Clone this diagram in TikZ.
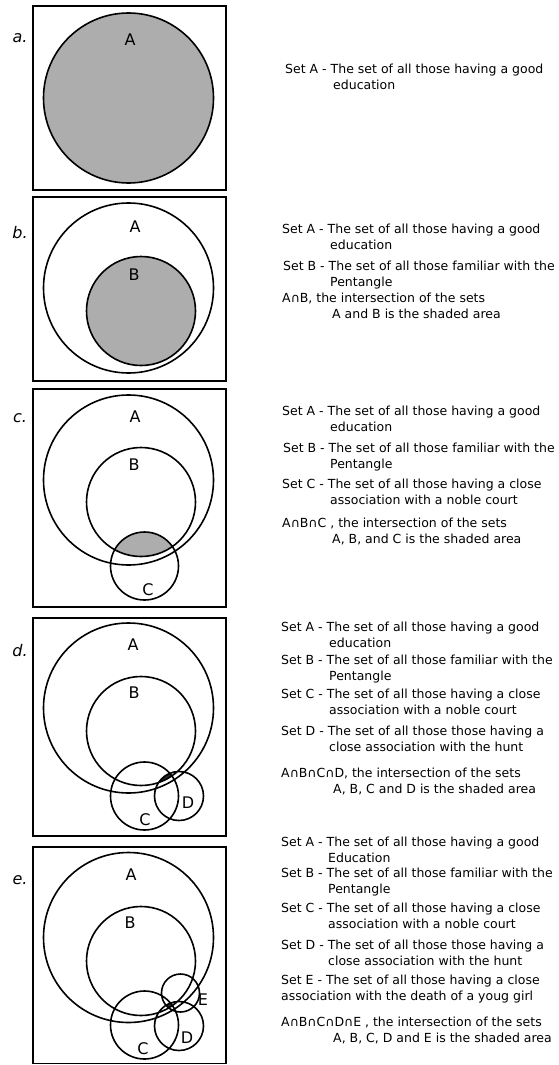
\documentclass[tikz,border=0pt]{standalone}
\usepackage{fontspec}
\setmainfont{DejaVu Sans}

\begin{document}
\begin{tikzpicture}
		[x=1pt,y=-1pt,
		set circle/.style={draw,line width=1.6pt},
		panel/.style={draw,line width=1.4pt},
		shaded/.style={fill=black!32},
		shaded sliver/.style={fill=black!85},
		set label/.style={font=\fontsize{16}{16}\selectfont},
		part label/.style={font=\fontsize{16}{16}\selectfont\itshape},
		desc/.style={anchor=base west,align=left,inner sep=0pt,font=\fontsize{12.5}{16.5}\selectfont}]
		\def \rA {85}
		\def \rB {54.5}
		\def \rC {34}
		\def \rD {24.5}
		\def \rE {19}
		\useasboundingbox (0,0) rectangle (558,1065);
		
		% a.
		\draw[panel] (33,6) rectangle (226,190);
		\coordinate (a-A) at (128.5,98);
		\fill[shaded] (a-A) circle (\rA);
		\draw[set circle] (a-A) circle (\rA);
		\node[part label] (a) at (20,38) {a.};
		\node[set label] (a-lA) at (130,40) {A};
		\node[desc] (a-dA) at (285,89.5) {Set A - The set of all those having a good\\\hspace*{48pt}education};
		
		% b.
		\draw[panel] (33,197) rectangle (226,381);
		\coordinate (b-A) at (128.5,288);
		\coordinate (b-B) at (141,311);
		\fill[shaded] (b-B) circle (\rB);
		\draw[set circle] (b-A) circle (\rA) (b-B) circle (\rB);
		\node[part label] (b) at (20,233) {b.};
		\node[set label] (b-lA) at (135,227) {A};
		\node[set label] (b-lB) at (134,275) {B};
		\node[desc] (b-dA) at (282,249.5) {Set A - The set of all those having a good\\\hspace*{48pt}education};
		\node[desc] (b-dB) at (283,286.5) {Set B - The set of all those familiar with the\\\hspace*{47pt}Pentangle};
		\node[desc] (b-dAB) at (282,318.5) {A∩B, the intersection of the sets\\\hspace*{50pt}A and B is the shaded area};
		
		% c.
		\draw[panel] (33,389) rectangle (226,607);
		\coordinate (c-A) at (128.5,480);
		\coordinate (c-B) at (141,502);
		\coordinate (c-C) at (144.5,566);
		\begin{scope}
			\clip (c-A) circle (\rA);
			\clip (c-B) circle (\rB);
			\fill[shaded] (c-C) circle (\rC);
		\end{scope}
		\draw[set circle] (c-A) circle (\rA) (c-B) circle (\rB) (c-C) circle (\rC);
		\node[part label] (c) at (20,418) {c.};
		\node[set label] (c-lA) at (135,417) {A};
		\node[set label] (c-lB) at (134,465) {B};
		\node[set label] (c-lC) at (148,590) {C};
		\node[desc] (c-dA) at (282,431.5) {Set A - The set of all those having a good\\\hspace*{48pt}education};
		\node[desc] (c-dB) at (283,468.5) {Set B - The set of all those familiar with the\\\hspace*{47pt}Pentangle};
		\node[desc] (c-dC) at (282,504.5) {Set C - The set of all those having a close\\\hspace*{48pt}association with a noble court};
		\node[desc] (c-dABC) at (282,543.5) {A∩B∩C , the intersection of the sets\\\hspace*{50pt}A, B, and C is the shaded area};
		
		% d.
		\draw[panel] (33,618) rectangle (226,836);
		\coordinate (d-A) at (128.5,708);
		\coordinate (d-B) at (141,731);
		\coordinate (d-C) at (144.5,796);
		\coordinate (d-D) at (179,796);
		\begin{scope}
			\clip (d-A) circle (\rA);
			\clip (d-B) circle (\rB);
			\clip (d-C) circle (\rC);
			\fill[shaded sliver] (d-D) circle (\rD);
		\end{scope}
		\draw[set circle] (d-A) circle (\rA) (d-B) circle (\rB) (d-C) circle (\rC) (d-D) circle (\rD);
		\node[part label] (d) at (20,651) {d.};
		\node[set label] (d-lA) at (133,645) {A};
		\node[set label] (d-lB) at (134,693) {B};
		\node[set label] (d-lC) at (145,820) {C};
		\node[set label] (d-lD) at (188,803) {D};
		\node[desc] (d-dA) at (281,647.5) {Set A - The set of all those having a good\\\hspace*{48pt}education};
		\node[desc] (d-dB) at (281,680.5) {Set B - The set of all those familiar with the\\\hspace*{48pt}Pentangle};
		\node[desc] (d-dC) at (281,714.5) {Set C - The set of all those having a close\\\hspace*{48pt}association with a noble court};
		\node[desc] (d-dD) at (281,751.5) {Set D - The set of all those those having a\\\hspace*{48pt}close association with the hunt};
		\node[desc] (d-dABCD) at (281,793.5) {A∩B∩C∩D, the intersection of the sets\\\hspace*{52pt}A, B, C and D is the shaded area};
		
		% e.
		\draw[panel] (33,847) rectangle (226,1063.5);
		\coordinate (e-A) at (128.5,937.5);
		\coordinate (e-B) at (141,961);
		\coordinate (e-C) at (144.5,1025);
		\coordinate (e-D) at (179,1026);
		\coordinate (e-E) at (180.5,993);
		\begin{scope}
			\clip (e-A) circle (\rA);
			\clip (e-B) circle (\rB);
			\clip (e-C) circle (\rC);
			\clip (e-D) circle (\rD);
			\fill[shaded sliver] (e-E) circle (\rE);
		\end{scope}
		\draw[set circle] (e-A) circle (\rA) (e-B) circle (\rB) (e-C) circle (\rC) (e-D) circle (\rD) (e-E) circle (\rE);
		\node[part label] (e) at (20,880) {e.};
		\node[set label] (e-lA) at (131,875) {A};
		\node[set label] (e-lB) at (130,923) {B};
		\node[set label] (e-lC) at (143,1049) {C};
		\node[set label] (e-lD) at (187,1038) {D};
		\node[set label] (e-lE) at (203,1000) {E};
		\node[desc] (e-dA) at (281,862.5) {Set A - The set of all those having a good\\\hspace*{47pt}Education};
		\node[desc] (e-dB) at (281,893.5) {Set B - The set of all those familiar with the\\\hspace*{47pt}Pentangle};
		\node[desc] (e-dC) at (281,928.5) {Set C - The set of all those having a close\\\hspace*{47pt}association with a noble court};
		\node[desc] (e-dD) at (281,965.5) {Set D - The set of all those those having a\\\hspace*{47pt}close association with the hunt};
		\node[desc] (e-dE) at (281,1000.5) {Set E - The set of all those having a close\\association with the death of a youg girl};
		\node[desc] (e-dABCDE) at (281,1042.5) {A∩B∩C∩D∩E , the intersection of the sets\\\hspace*{52pt}A, B, C, D and E is the shaded area};
\end{tikzpicture}
\end{document}
